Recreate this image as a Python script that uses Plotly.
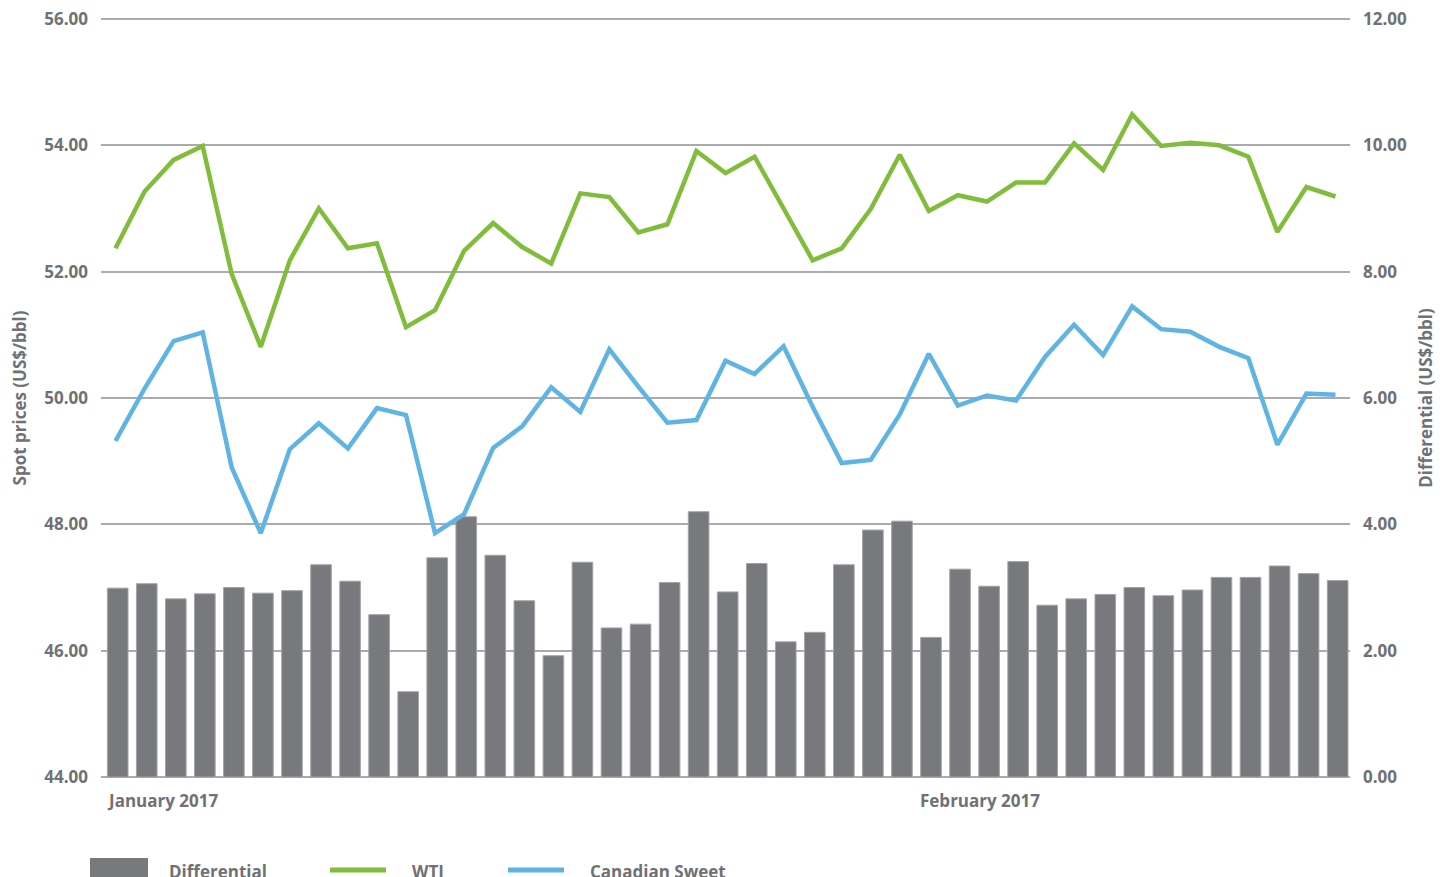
import plotly.graph_objects as go

# ---- data ----
day_index = list(range(43))  # trading days, Jan-Feb 2017

differential = [2.99, 3.06, 2.82, 2.90, 3.00, 2.91, 2.95, 3.36, 3.10, 2.57,
                1.35, 3.47, 4.12, 3.51, 2.79, 1.92, 3.40, 2.36, 2.42, 3.08,
                4.20, 2.93, 3.38, 2.14, 2.29, 3.36, 3.91, 4.05, 2.21, 3.29,
                3.02, 3.41, 2.72, 2.82, 2.89, 3.00, 2.87, 2.96, 3.16, 3.16,
                3.34, 3.22, 3.11]

wti = [52.37, 53.27, 53.77, 53.99, 51.96, 50.81, 52.18, 53.00, 52.37, 52.45,
       51.12, 51.39, 52.33, 52.77, 52.39, 52.13, 53.24, 53.18, 52.62, 52.75,
       53.91, 53.56, 53.82, 53.00, 52.18, 52.37, 52.99, 53.85, 52.96, 53.21,
       53.11, 53.41, 53.41, 54.03, 53.61, 54.49, 53.99, 54.04, 54.00, 53.82,
       52.63, 53.34, 53.19]

canadian_sweet = [49.32, 50.15, 50.90, 51.04, 48.90, 47.86, 49.19, 49.60, 49.20, 49.84,
                  49.73, 47.86, 48.16, 49.21, 49.55, 50.17, 49.78, 50.77, 50.18, 49.61,
                  49.65, 50.59, 50.38, 50.82, 49.86, 48.97, 49.02, 49.74, 50.70, 49.88,
                  50.04, 49.96, 50.65, 51.16, 50.68, 51.45, 51.09, 51.05, 50.81, 50.63,
                  49.26, 50.07, 50.05]

month_labels = ["January 2017", "February 2017"]
month_start_index = [0, 28]

series_names = ["Differential", "WTI", "Canadian Sweet"]

left_ticks = [44, 46, 48, 50, 52, 54, 56]
right_ticks = [0, 2, 4, 6, 8, 10, 12]

# ---- styling ----
GRAY_BAR = "#77797d"
GREEN = "#80bd3b"
BLUE = "#5fb4e4"
TEXT = "#707175"
GRID = "#a9abae"
FONT = "Open Sans"

# The page body has an 8px margin, so the figure is laid out 8px up/left
PAGE_OFF = 8
W, H = 1450, 877
# target grid extent in window pixels: x 101..1350, y 19 (top grid) .. 777 (bottom grid)
GRID_TOP, GRID_BOT = 19, 777
UNIT = (GRID_BOT - GRID_TOP) / 12.0     # px per axis unit
PAD_PX = 2                               # keep end gridlines inside the plot area
PAD_U = PAD_PX / UNIT

ML = 101 - PAGE_OFF
MR = (W + PAGE_OFF) - 1350
MT = GRID_TOP - PAD_PX - PAGE_OFF
MB = (H + PAGE_OFF) - (GRID_BOT + PAD_PX)
PW, PH = W - ML - MR, H - MT - MB


def px_x(p):  # window pixel -> paper x
    return (p - PAGE_OFF - ML) / PW


def px_y(p):  # window pixel -> paper y
    return (H - MB - (p - PAGE_OFF)) / PH


fig = go.Figure()

fig.add_trace(go.Bar(
    x=day_index, y=differential, name=series_names[0], yaxis="y",
    width=0.71, offset=-0.28,
    marker=dict(color=GRAY_BAR, line=dict(color="#a3a4a7", width=1)),
    showlegend=False,
))
fig.add_trace(go.Scatter(
    x=day_index, y=wti, name=series_names[1], yaxis="y2", mode="lines",
    line=dict(color=GREEN, width=4.5), showlegend=False,
))
fig.add_trace(go.Scatter(
    x=day_index, y=canadian_sweet, name=series_names[2], yaxis="y2", mode="lines",
    line=dict(color=BLUE, width=4.5), showlegend=False,
))

tick_font = dict(family=FONT, size=17, color=TEXT, weight="bold")
title_font = dict(family=FONT, size=17, color=TEXT, weight="bold")

fig.update_layout(
    width=W, height=H,
    margin=dict(l=ML, r=MR, t=MT, b=MB, pad=0, autoexpand=False),
    paper_bgcolor="white", plot_bgcolor="white",
    xaxis=dict(range=[-0.5, len(day_index) - 0.5], showticklabels=False,
               showgrid=False, zeroline=False, showline=False, ticks="",
               automargin=False),
    yaxis=dict(side="right", range=[right_ticks[0] - PAD_U, right_ticks[-1] + PAD_U],
               tickvals=right_ticks, tickformat=".2f",
               showgrid=True, gridcolor=GRID, gridwidth=1.6, zeroline=False,
               showline=False, ticks="", tickfont=tick_font, automargin=False,
               ticklabelstandoff=12, ticklabeloverflow="allow",
               title=dict(text="Differential (US$/bbl)", font=title_font, standoff=14)),
    yaxis2=dict(side="left", overlaying="y", range=[left_ticks[0] - PAD_U, left_ticks[-1] + PAD_U],
                tickvals=left_ticks, tickformat=".2f",
                showgrid=False, zeroline=False, showline=False, ticks="",
                tickfont=tick_font, automargin=False,
                ticklabelstandoff=12, ticklabeloverflow="allow",
                title=dict(text="Spot prices (US$/bbl)", font=title_font, standoff=14)),
    font=dict(family=FONT, color=TEXT),
)

# month labels under the axis
for label, idx in zip(month_labels, month_start_index):
    fig.add_annotation(x=idx - 0.36, y=px_y(800), xref="x", yref="paper",
                       text=label, showarrow=False, xanchor="left", yanchor="middle",
                       font=dict(family=FONT, size=17, color=TEXT, weight="bold"))

# legend at the bottom (partly below the visible window, as in the source)
fig.add_shape(type="rect", xref="paper", yref="paper",
              x0=px_x(90), x1=px_x(148), y0=px_y(858), y1=px_y(884),
              fillcolor=GRAY_BAR, line=dict(width=0))
fig.add_shape(type="line", xref="paper", yref="paper",
              x0=px_x(330), x1=px_x(386), y0=px_y(870), y1=px_y(870),
              line=dict(color=GREEN, width=5))
fig.add_shape(type="line", xref="paper", yref="paper",
              x0=px_x(508), x1=px_x(564), y0=px_y(870), y1=px_y(870),
              line=dict(color=BLUE, width=5))
for name, xp in zip(series_names, [167, 410, 588]):
    fig.add_annotation(x=px_x(xp), y=px_y(871), xref="paper", yref="paper",
                       text=name, showarrow=False, xanchor="left", yanchor="middle",
                       font=dict(family=FONT, size=17, color=TEXT, weight="bold"))

fig.write_html("out.html")
